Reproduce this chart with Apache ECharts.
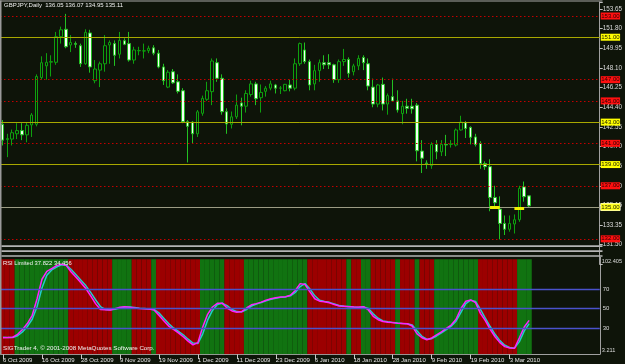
<!DOCTYPE html>
<html><head><meta charset="utf-8">
<script src="https://cdn.jsdelivr.net/npm/echarts@6/dist/echarts.min.js"></script>
<style>html,body{margin:0;padding:0;background:#0e1409;}#c{width:625px;height:364px;}</style>
</head><body><div id="c"></div>
<script>
const dates = ['6 Oct 2009','7 Oct 2009','8 Oct 2009','9 Oct 2009','12 Oct 2009','13 Oct 2009','14 Oct 2009','15 Oct 2009','16 Oct 2009','19 Oct 2009','20 Oct 2009','21 Oct 2009','22 Oct 2009','23 Oct 2009','26 Oct 2009','27 Oct 2009','28 Oct 2009','29 Oct 2009','30 Oct 2009',
'2 Nov 2009','3 Nov 2009','4 Nov 2009','5 Nov 2009','6 Nov 2009','9 Nov 2009','10 Nov 2009','11 Nov 2009','12 Nov 2009','13 Nov 2009','16 Nov 2009','17 Nov 2009','18 Nov 2009','19 Nov 2009','20 Nov 2009','23 Nov 2009','24 Nov 2009','25 Nov 2009','26 Nov 2009','27 Nov 2009','30 Nov 2009',
'1 Dec 2009','2 Dec 2009','3 Dec 2009','4 Dec 2009','7 Dec 2009','8 Dec 2009','9 Dec 2009','10 Dec 2009','11 Dec 2009','14 Dec 2009','15 Dec 2009','16 Dec 2009','17 Dec 2009','18 Dec 2009','21 Dec 2009','22 Dec 2009','23 Dec 2009','24 Dec 2009','28 Dec 2009','29 Dec 2009','30 Dec 2009','31 Dec 2009',
'4 Jan 2010','5 Jan 2010','6 Jan 2010','7 Jan 2010','8 Jan 2010','11 Jan 2010','12 Jan 2010','13 Jan 2010','14 Jan 2010','15 Jan 2010','18 Jan 2010','19 Jan 2010','20 Jan 2010','21 Jan 2010','22 Jan 2010','25 Jan 2010','26 Jan 2010','27 Jan 2010','28 Jan 2010','29 Jan 2010',
'1 Feb 2010','2 Feb 2010','3 Feb 2010','4 Feb 2010','5 Feb 2010','8 Feb 2010','9 Feb 2010','10 Feb 2010','11 Feb 2010','12 Feb 2010','15 Feb 2010','16 Feb 2010','17 Feb 2010','18 Feb 2010','19 Feb 2010','22 Feb 2010','23 Feb 2010','24 Feb 2010','25 Feb 2010','26 Feb 2010',
'1 Mar 2010','2 Mar 2010','3 Mar 2010','4 Mar 2010','5 Mar 2010','8 Mar 2010','9 Mar 2010'];

const opens = [142.8,141.35,141.4,141.9,142.2,141.8,142.73,142.8,147.2,148.3,
148.65,148.64,151.05,151.75,150.27,150.4,150.2,148.5,151.4,146.9,
147.9,148.5,150.27,150.4,149.4,150.67,150.4,148.85,149.72,149.7,
149.73,150.0,149.5,148.2,146.3,147.75,146.8,145.96,143.04,143.0,
141.9,143.83,145.15,145.87,148.6,147.13,143.98,142.8,143.5,144.8,
144.5,145.6,146.6,145.3,145.9,146.2,146.5,146.2,145.96,146.5,
146.2,148.5,149.8,148.7,146.6,147.85,148.6,148.6,148.4,147.0,
148.7,148.9,147.75,148.3,149.1,148.5,146.3,144.7,146.56,144.7,
145.4,145.0,143.8,144.5,144.5,144.6,140.27,139.15,138.9,140.9,
140.2,140.9,140.9,140.84,142.26,142.95,142.5,141.6,141.0,139.1,
138.8,135.9,134.8,133.45,132.9,133.4,133.8,136.9,136.05];
const closes = [141.3,141.45,142.0,142.2,141.8,142.7,143.67,147.3,148.6,148.64,
148.7,151.05,151.7,150.1,150.5,150.33,148.5,151.46,148.2,148.0,
148.5,150.2,150.5,149.3,150.7,150.33,148.85,149.8,149.75,149.72,
149.96,149.5,148.2,146.9,147.7,146.7,145.9,143.04,142.6,141.9,
143.97,145.24,145.96,148.76,147.13,143.98,142.82,143.5,144.6,144.5,
145.7,146.6,145.2,145.8,146.2,146.6,146.2,146.22,146.56,146.2,
148.5,150.4,148.7,146.5,147.85,148.6,148.4,148.4,147.0,148.7,
148.9,147.6,148.3,149.0,148.6,146.4,144.7,146.5,144.7,145.5,
145.0,144.14,144.5,144.3,144.25,140.3,139.6,139.1,140.9,140.2,
140.9,140.85,140.95,142.26,143.0,142.4,141.57,140.9,139.1,138.8,
135.9,135.4,133.45,132.9,133.45,133.8,136.76,135.97,135.11];
const lows = [140.8,139.7,140.8,141.4,141.3,141.1,141.6,142.6,147.0,147.0,
147.3,148.4,150.4,149.96,149.6,150.0,148.2,148.4,147.66,146.66,
146.3,147.75,148.5,148.3,149.0,150.25,148.7,148.5,149.3,149.0,
149.5,149.3,148.07,146.5,146.2,146.6,145.7,142.9,139.2,141.0,
141.6,143.6,145.0,144.6,146.8,143.7,141.9,142.4,143.3,142.7,
143.9,145.4,144.6,143.9,145.4,146.0,145.7,145.65,145.9,145.9,
146.0,148.3,148.5,146.0,146.0,146.8,148.0,148.0,146.7,146.7,
148.3,147.2,147.4,147.9,147.9,146.0,144.4,144.4,144.1,143.7,
145.0,143.9,142.8,143.8,143.8,139.3,138.2,138.6,138.6,139.5,
139.8,139.8,140.6,140.7,142.2,141.5,140.9,140.7,138.6,138.5,
134.6,134.85,131.95,132.36,132.67,132.5,133.6,135.5,134.95];
const highs = [143.2,141.9,142.3,142.9,142.9,143.0,143.85,147.5,149.2,149.5,
149.3,151.5,152.0,153.2,151.2,150.6,150.4,151.75,151.7,148.85,
148.7,151.2,150.7,150.7,151.5,150.9,151.5,150.1,150.1,150.4,
150.2,150.25,149.8,148.5,147.9,148.0,147.5,146.2,143.2,143.1,
144.14,145.5,146.8,149.0,149.0,147.5,144.3,144.0,145.6,145.3,
146.0,146.9,146.8,146.55,146.4,146.9,146.6,146.4,146.6,147.0,
149.0,150.5,150.5,148.9,148.4,148.9,149.3,149.4,148.5,148.9,
149.9,149.1,148.5,149.3,149.3,149.0,147.1,146.6,147.2,145.7,
147.1,146.0,145.0,145.2,145.2,144.8,141.3,139.4,141.1,141.3,
141.3,141.8,141.3,142.4,143.6,143.1,142.6,141.9,141.2,139.3,
139.5,137.0,136.0,134.2,134.2,134.3,137.0,137.4,136.07];

const rsiMain = [20.0,20.2,20.5,23.5,28.5,34.5,43,60,80,88,
91,94,95.5,94,87.5,82,76.5,70.5,63,55,
49,48.7,48.5,49.8,51.2,51.8,51.3,50.5,50,49.8,
49.5,48.5,43,37.5,32,28.5,25,21,16.5,12.6,
15,31,44,51.5,55.3,55.5,50.5,47.5,46.2,46.8,
50.5,53.8,55,56.5,58.5,60,61,61.7,62,63.5,
68.5,75.5,74.5,67,60,57.5,57,55.8,54,52.5,
52.2,51.9,51.5,51.2,51.9,48.5,42,38.5,36.7,36,
35.5,34.9,34.6,34.3,32,24,20,18,19.8,23,
26,29.5,33,39,50,57.5,58.8,56,45,37.5,
28.5,21,15,10.9,9.5,9.2,20,31,37.822];
const rsiSignal = [20.5,20.2,20.3,22,26,31.5,39,52,71,84,
89.5,92.5,94.8,94.6,90,84.5,79,73.5,66.5,59,
52,49,48.6,49.2,50.5,51.5,51.5,50.9,50.2,49.9,
49.6,49,45.5,40,34.5,30,26.5,23,18.5,14.5,
14,24,38,48,54,55.4,53,49,46.8,46.5,
49,52.5,54.5,56,57.8,59.5,60.6,61.4,61.9,63,
66.5,72.5,75.5,70,63,58.5,57.2,56.3,54.7,53,
52.4,52,51.6,51.3,51.6,50,44.5,40,37.3,36.3,
35.7,35.1,34.7,34.4,33,27,21.5,18.5,19,21.8,
25,28.3,31.8,37,46,55,58.5,57.2,49,40,
31.5,23.5,17,12.3,10,9.3,16,27,34.456];
// 1 = green (rising), 0 = red
const bgState = [0,0,0,1,1,1,1,1,1,1,
1,1,1,1,0,0,0,0,0,0,
0,0,0,1,1,1,1,0,0,0,
0,1,0,0,0,0,0,0,0,0,
0,1,1,1,1,1,0,0,0,0,
1,1,1,1,1,1,1,1,1,1,
1,1,1,0,0,0,0,0,0,0,
0,1,0,0,1,1,0,0,0,0,
0,1,0,0,0,1,0,0,0,1,
1,1,1,1,1,1,1,1,0,0,
0,0,0,0,0,0,1,1,1];

const redLevels = [153, 147, 145, 141, 137, 132];
const yellowLevels = [151, 143, 139];
const greyLevels = [135];
const rsiLevels = [70, 50, 30];
const priceTickLabels = ['131.50','133.35','135.15','137.00','138.85','140.70','142.55','144.40','146.25','148.10','149.95','151.80','153.65'];
const markerSegments = [[100, 102, 135.0], [105, 107, 134.87]];
const rsiMin = 3.211, rsiMax = 102.405;
const titleText = 'GBPJPY,Daily  136.05 136.07 134.95 135.11';
const rsiText = 'RSI Limited 37.822 34.456';
const footerText = 'SIGTrader 4, \u00a9 2001-2008 MetaQuotes Software Corp.';

// layout
const PRICE_MIN = 129.6, PRICE_MAX = 154.32, TICK_STEP = 1.85;
const PAD = 14;
const FONT = 'Liberation Sans, Arial, sans-serif';
const BG = '#0e1409';
const padCats = Array.from({length: PAD}, (_, k) => 'pad' + k);
const axisCats = dates.concat(padCats);
const N = dates.length;
const showIdx = (idx) => idx % 8 === 0 && idx < N;

const candleData = dates.map((d, i) => [opens[i], closes[i], lows[i], highs[i]]);

const priceMarks = [];
redLevels.forEach(v => priceMarks.push({yAxis: v,
  lineStyle: {color: '#c40000', width: 1, type: [1.5, 2.5]},
  label: {formatter: v.toFixed(2), backgroundColor: '#ff1010', color: '#2a0000'}}));
yellowLevels.forEach(v => priceMarks.push({yAxis: v,
  lineStyle: {color: '#a8a800', width: 1, type: 'solid'},
  label: {formatter: v.toFixed(2), backgroundColor: '#ffff00', color: '#202000'}}));
greyLevels.forEach(v => priceMarks.push({yAxis: v,
  lineStyle: {color: '#9c9c84', width: 1.2, type: 'solid'},
  label: {formatter: v.toFixed(2), backgroundColor: '#ffff20', color: '#202000', borderColor: '#ffffff', borderWidth: 0.5}}));
markerSegments.forEach(s => priceMarks.push([
  {coord: [dates[s[0]], s[2]], lineStyle: {color: '#f0f000', width: 3, type: 'solid'}, label: {show: false}},
  {coord: [dates[s[1]], s[2]]}
]));

const rsiMarks = rsiLevels.map(v => ({yAxis: v, label: {formatter: String(v)}}));

const chart = echarts.init(document.getElementById('c'), null, {renderer: 'canvas'});
chart.setOption({
  animation: false,
  backgroundColor: BG,
  textStyle: {fontFamily: FONT},
  title: [
    {text: titleText, left: 4, top: 2.5, padding: 0, textStyle: {color: '#f2f2f2', fontSize: 6, fontWeight: 'normal', fontFamily: FONT}},
    {text: rsiText, left: 3, top: 260.5, padding: 0, textStyle: {color: '#f2f2f2', fontSize: 5.8, fontWeight: 'normal', fontFamily: FONT}},
    {text: footerText, left: 3, top: 345.5, padding: 0, textStyle: {color: '#f2f2f2', fontSize: 6.2, fontWeight: 'normal', fontFamily: FONT}}
  ],
  grid: [
    {left: 0, top: 2, width: 602.5, height: 262.3},
    {left: 0, top: 257.4, width: 602.5, height: 96.7},
    {left: -2.45, top: 257.4, width: 602.5, height: 96.7}
  ],
  xAxis: [
    {type: 'category', gridIndex: 0, data: axisCats, boundaryGap: true, show: false},
    {type: 'category', gridIndex: 1, data: axisCats, boundaryGap: true,
      axisLine: {show: true, lineStyle: {color: '#a0a0a0', width: 1}},
      axisTick: {show: true, interval: showIdx, alignWithLabel: true, length: 5, lineStyle: {color: '#c8c8c8'}},
      axisLabel: {interval: showIdx, align: 'left', color: '#e6e6e6', fontSize: 6, margin: 3, fontFamily: FONT}},
    {type: 'category', gridIndex: 2, data: axisCats, boundaryGap: true, show: false}
  ],
  yAxis: [
    {type: 'value', gridIndex: 0, min: PRICE_MIN, max: PRICE_MAX, show: false, position: 'left'},
    {type: 'value', gridIndex: 0, min: 0, max: +(PRICE_MAX - PRICE_MIN).toFixed(2), interval: TICK_STEP, position: 'right',
      axisLine: {show: true, lineStyle: {color: '#a0a0a0', width: 1}},
      axisTick: {show: true, length: 3, lineStyle: {color: '#c0c0c0'}},
      splitLine: {show: false},
      axisLabel: {color: '#dcdcdc', fontSize: 6.3, margin: 3, fontFamily: FONT, showMinLabel: true, showMaxLabel: true,
        formatter: v => {const k = Math.round(v / TICK_STEP); if (Math.abs(v - k * TICK_STEP) > 0.01 || k < 1 || k > priceTickLabels.length) return ''; return priceTickLabels[k - 1];}}},
    {type: 'value', gridIndex: 1, min: rsiMin, max: rsiMax, position: 'right',
      axisLine: {show: true, lineStyle: {color: '#a0a0a0', width: 1}},
      axisTick: {show: false}, splitLine: {show: false},
      axisLabel: {color: '#dcdcdc', fontSize: 5.6, margin: 2, showMinLabel: true, showMaxLabel: true, fontFamily: FONT,
        formatter: v => Math.abs(v - rsiMax) < 1e-6 ? '{t|' + rsiMax + '}' : (Math.abs(v - rsiMin) < 1e-6 ? '{b|' + rsiMin + '}' : ''),
        rich: {t: {padding: [9, 0, 0, 0], fontSize: 5.6, color: '#dcdcdc', fontFamily: FONT}, b: {padding: [0, 0, 8, 0], fontSize: 5.6, color: '#dcdcdc', fontFamily: FONT}}}},
    {type: 'value', gridIndex: 2, min: rsiMin, max: rsiMax, show: false}
  ],
  series: [
    {type: 'bar', xAxisIndex: 2, yAxisIndex: 3, barWidth: '100%', z: 1, silent: true,
      data: bgState.map(s => ({value: 100.5, itemStyle: {color: s ? '#117311' : '#9c0000'}}))},
    {type: 'candlestick', xAxisIndex: 0, yAxisIndex: 0, data: candleData, barWidth: 3, z: 3,
      itemStyle: {color: BG, color0: '#f4fff4', borderColor: '#0ea00e', borderColor0: '#22c022', borderWidth: 1},
      markLine: {silent: true, symbol: ['none', 'none'], animation: false, precision: 2,
        label: {show: true, position: 'end', distance: 1, fontSize: 6, padding: [1, 0.5, 0, 0.5], fontFamily: FONT},
        data: priceMarks}},
    {type: 'line', xAxisIndex: 1, yAxisIndex: 2, data: rsiSignal, showSymbol: false, z: 3,
      lineStyle: {color: '#22cccc', width: 1.5},
      markLine: {silent: true, symbol: ['none', 'none'], animation: false,
        lineStyle: {color: '#4a52cc', width: 1.4, type: 'solid'},
        label: {show: true, position: 'end', distance: 3, color: '#dcdcdc', fontSize: 6, fontFamily: FONT},
        data: rsiMarks}},
    {type: 'line', xAxisIndex: 1, yAxisIndex: 2, data: rsiMain, showSymbol: false, z: 4,
      lineStyle: {color: '#ff22ff', width: 1.5}}
  ],
  graphic: [
    {type: 'rect', shape: {x: 0, y: 0.5, width: 602.5, height: 1}, style: {fill: '#a8a8a8'}, z: 10},
    {type: 'rect', shape: {x: 0, y: 0.5, width: 1.5, height: 354}, style: {fill: '#9a9a9a'}, z: 10},
    {type: 'rect', shape: {x: 1.5, y: 245.3, width: 601, height: 1.7}, style: {fill: '#b4b4b4'}, z: 10},
    {type: 'rect', shape: {x: 1.5, y: 250.3, width: 601, height: 1.7}, style: {fill: '#b4b4b4'}, z: 10},
    {type: 'rect', shape: {x: 1.5, y: 255.3, width: 601, height: 1.5}, style: {fill: '#b4b4b4'}, z: 10}
  ]
});
</script></body></html>
